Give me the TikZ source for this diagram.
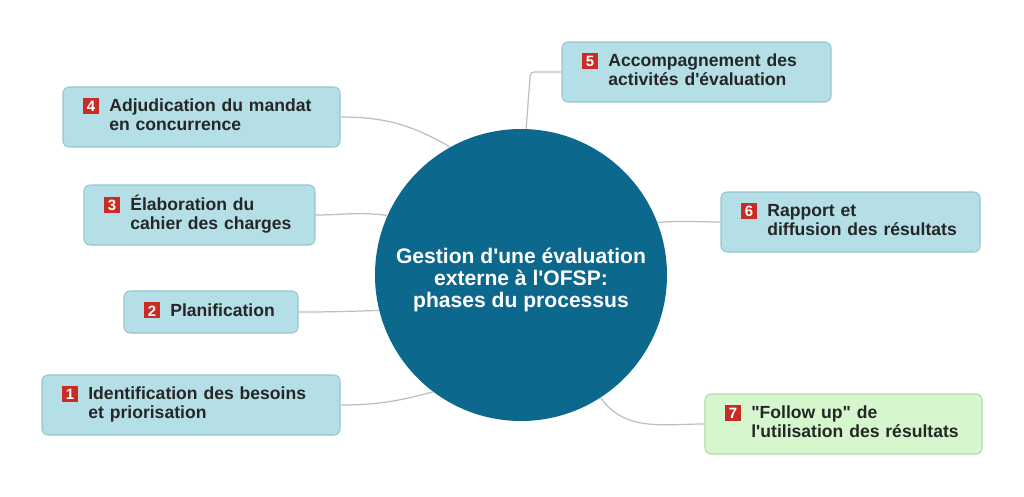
\documentclass[tikz,border=0pt]{standalone}
\usepackage{fontspec}
\setmainfont{Liberation Sans}[Ligatures=TeXOff]
\usepackage{tikz}
\definecolor{boxblue}{RGB}{180,223,231}
\definecolor{boxedge}{RGB}{150,198,208}
\definecolor{boxgreen}{RGB}{214,247,206}
\definecolor{greenedge}{RGB}{176,218,168}
\definecolor{hubblue}{RGB}{12,104,140}
\definecolor{badgered}{RGB}{201,44,36}
\definecolor{linkgray}{RGB}{190,190,190}
\definecolor{inkgray}{RGB}{38,38,38}
\newcommand{\badge}[1]{{\setlength{\fboxsep}{0pt}\colorbox{badgered}{\makebox[9pt]{\rule[-1.2pt]{0pt}{9pt}\textcolor{white}{\fontsize{8.5}{8.5}\selectfont\bfseries #1}}}}}
\newcommand{\phase}[2]{\badge{#1}\hspace{6pt}\begin{tabular}[t]{@{}l@{}}#2\end{tabular}}

\begin{document}
\begin{tikzpicture}
				[phasebox/.style={draw=boxedge, fill=boxblue, rounded corners=3.5pt, line width=0.6pt,
					inner xsep=0.4cm, inner ysep=0pt, minimum height=1.2cm, align=left, text=inkgray,
					font=\fontsize{10}{10.5}\selectfont\bfseries},
				followbox/.style={phasebox, draw=greenedge, fill=boxgreen},
				hub/.style={circle, fill=hubblue, minimum size=5.84cm, inner sep=0pt, align=center,
					text=white, font=\fontsize{12}{12.5}\selectfont\bfseries},
				link/.style={draw=linkgray, line width=0.7pt}]
				\useasboundingbox (0,0) rectangle (20.48,9.92);
				\node[hub] (hub) at (10.42,4.42) {\rule{0pt}{0.5cm}Gestion d'une évaluation\\externe à l'OFSP:\\phases du processus};
				% phases autour du centre
				\node[phasebox, text width=5.16cm] (p1) at (3.82,1.82) {\phase{1}{Identification des besoins\\et priorisation}};
				\node[phasebox, text width=2.68cm, minimum height=0.84cm] (p2) at (4.22,3.68) {\phase{2}{Planification}};
				\node[phasebox, text width=3.82cm] (p3) at (3.99,5.62) {\phase{3}{Élaboration du\\cahier des charges}};
				\node[phasebox, text width=4.74cm] (p4) at (4.03,7.58) {\phase{4}{Adjudication du mandat\\en concurrence}};
				\node[phasebox, text width=4.58cm] (p5) at (13.93,8.48) {\phase{5}{Accompagnement des\\activités d'évaluation}};
				\node[phasebox, text width=4.38cm] (p6) at (17.01,5.48) {\phase{6}{Rapport et\\diffusion des résultats}};
				\node[followbox, text width=4.74cm] (p7) at (16.87,1.44) {\phase{7}{"Follow up" de\\l'utilisation des résultats}};
				% liens
				\draw[link] (p1.east) to[out=0, in=195] (hub.233);
				\draw[link] (p2.east) to[out=0, in=182] (hub.194);
				\draw[link] (p3.east) to[out=0, in=172] (hub.156);
				\draw[link] (p4.east) to[out=0, in=150] (hub.119);
				\draw[link, rounded corners=2pt] (hub.88) -- ([xshift=-0.62cm]p5.west) -- (p5.west);
				\draw[link] (hub.21) to[out=5, in=180] (p6.west);
				\draw[link] (hub.303) to[out=-55, in=180] (p7.west);
\end{tikzpicture}
\end{document}
